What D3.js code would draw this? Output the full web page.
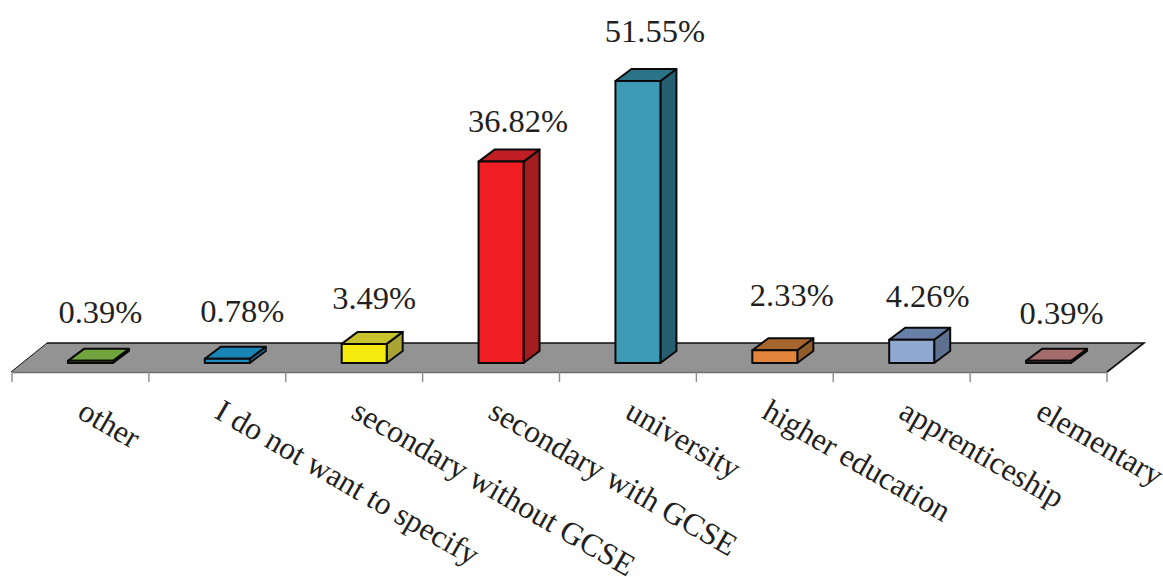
<!DOCTYPE html>
<html>
<head>
<meta charset="utf-8">
<script src="https://cdn.jsdelivr.net/npm/d3@7"></script>
<style>
  html, body { margin: 0; padding: 0; background: #fff; }
  svg { display: block; }
  text { font-family: "Liberation Serif", serif; fill: #231f20; }
</style>
</head>
<body>
<svg id="chart" width="1163" height="577"></svg>
<script>
// Education level shares, percent of respondents
const categories = ["other", "I do not want to specify", "secondary without GCSE", "secondary with GCSE",
  "university", "higher education", "apprenticeship", "elementary"];
const shares = [0.39, 0.78, 3.49, 36.82, 51.55, 2.33, 4.26, 0.39];
const frontColors = ["#70a23e", "#1e8fc4", "#f5ea0e", "#f01f24", "#3d9ab5", "#e0853a", "#91a8d0", "#a56c6c"];
const topColors = ["#70a23e", "#1a84b5", "#c8c22c", "#c21f25", "#2b7487", "#a5652c", "#6880a8", "#a56c6c"];
const sideColors = ["#587f31", "#1a7099", "#a8a535", "#a31c20", "#266070", "#8f5c2a", "#5d7090", "#855656"];

// Floor perspective and bar box settings
const depthX = 16, depthY = -12;
const baseY = 363, floorFront = 372, floorBack = 343;
const barWidth = 45, barShift = 10;

const svg = d3.select("#chart");
const x = d3.scaleBand().domain(categories).range([12, 1107]);
const y = d3.scaleLinear().domain([0, 51.55]).range([baseY, 81]);

// Floor plane
const line = d3.line();
svg.append("path")
  .attr("d", line([[11, floorFront], [47, floorBack], [1144, floorBack], [1107, floorFront]]) + "Z")
  .attr("fill", "#939393");
svg.append("path").attr("d", line([[11, floorFront], [47, floorBack]]))
  .attr("fill", "none").attr("stroke", "#111").attr("stroke-width", 1);
svg.append("path").attr("d", line([[47, floorBack], [1144, floorBack], [1107, floorFront]]))
  .attr("fill", "none").attr("stroke", "#111").attr("stroke-width", 1.6);

// Category axis along the front edge of the floor
const axis = d3.axisBottom(x).tickSize(0).tickFormat("");
const axisG = svg.append("g").attr("transform", `translate(0,${floorFront})`).call(axis);
axisG.select(".domain").attr("stroke", "#6d6e71").attr("stroke-width", 1.6);
axisG.selectAll(".tick").remove();
const tickXs = categories.map(c => x(c)).concat(x.range()[1]);
svg.selectAll("line.tick-mark").data(tickXs).join("line")
  .attr("class", "tick-mark")
  .attr("x1", d => d).attr("x2", d => d)
  .attr("y1", floorFront).attr("y2", 382)
  .attr("stroke", "#8a8c8e").attr("stroke-width", 1.4);

// Bars drawn as three-faced boxes
const bars = svg.selectAll("g.bar").data(categories).join("g").attr("class", "bar")
  .attr("stroke", "#0a0a0a").attr("stroke-width", 2).attr("stroke-linejoin", "round");
bars.each(function (c, i) {
  const g = d3.select(this);
  const x0 = x(c) + x.bandwidth() / 2 + barShift - barWidth / 2, x1 = x0 + barWidth;
  const yt = y(shares[i]), yb = y(0);
  g.append("path").attr("fill", sideColors[i])
    .attr("d", line([[x1, yt], [x1 + depthX, yt + depthY], [x1 + depthX, yb + depthY], [x1, yb]]) + "Z");
  g.append("path").attr("fill", topColors[i])
    .attr("d", line([[x0, yt], [x0 + depthX, yt + depthY], [x1 + depthX, yt + depthY], [x1, yt]]) + "Z");
  g.append("path").attr("fill", frontColors[i])
    .attr("d", line([[x0, yt], [x1, yt], [x1, yb], [x0, yb]]) + "Z");
});

// Value labels sit above each box, each nudged clear of its neighbours by hand
const labelRaise = [38, 37, 35, 30, 39, 44, 33, 37];
const labelNudge = [11, 16, 11, 18, 18, 18, 17, 14];
svg.selectAll("text.value").data(categories).join("text")
  .attr("class", "value")
  .attr("x", (c, i) => x(c) + x.bandwidth() / 2 + barShift + labelNudge[i] - 1)
  .attr("y", (c, i) => y(shares[i]) - labelRaise[i])
  .attr("text-anchor", "middle")
  .attr("font-size", 32.5)
  .text((c, i) => shares[i].toFixed(2) + "%");

// Slanted category labels
svg.selectAll("text.cat").data(categories).join("text")
  .attr("class", "cat")
  .attr("transform", c => `translate(${x(c) + 64},417) rotate(30)`)
  .attr("font-size", 31.5)
  .text(c => c);
</script>
</body>
</html>
